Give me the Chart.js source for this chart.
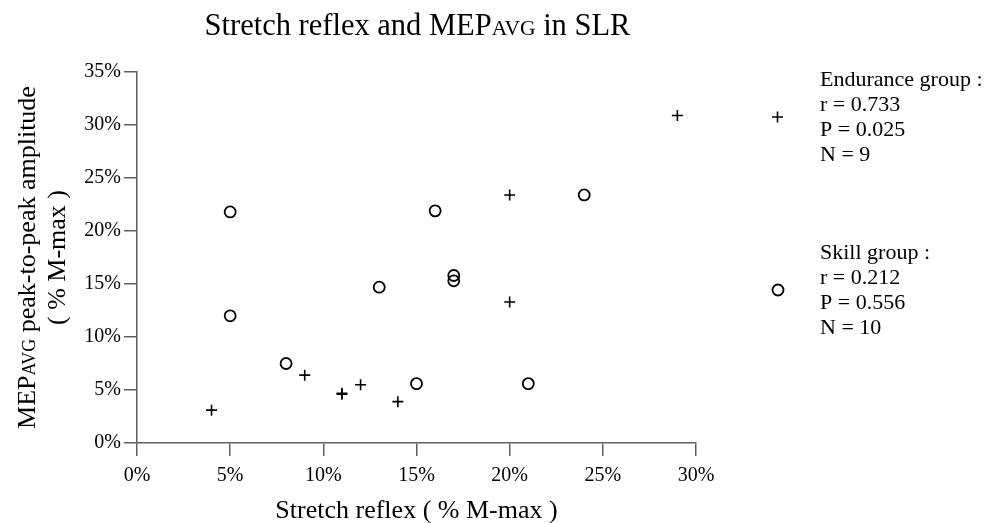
<!DOCTYPE html>
<html><head><meta charset="utf-8">
<script src="https://cdn.jsdelivr.net/npm/chart.js@4.4.1/dist/chart.umd.min.js"></script>
<style>html,body{margin:0;padding:0;background:#fff;overflow:hidden;}</style>
</head><body>
<canvas id="c" width="988" height="523" style="display:block;width:988px;height:523px"></canvas>
<script>
// ---- data (percent of M-max) ----
const enduranceX = [4, 9, 11, 11, 12, 14, 20, 20, 29];
const enduranceY = [3.1, 6.4, 4.6, 4.7, 5.5, 3.9, 23.4, 13.3, 30.9];
const skillX = [5, 5, 8, 13, 15, 16, 17, 17, 21, 24];
const skillY = [21.8, 12.0, 7.5, 14.7, 5.6, 21.9, 15.8, 15.3, 5.6, 23.4];
const xTicks = [0, 5, 10, 15, 20, 25, 30];
const yTicks = [0, 5, 10, 15, 20, 25, 30, 35];
const enduranceStats = ['Endurance group :', 'r = 0.733', 'P = 0.025', 'N = 9'];
const skillStats = ['Skill group :', 'r = 0.212', 'P = 0.556', 'N = 10'];
const titleParts = ['Stretch reflex and MEP', 'AVG', ' in SLR'];
const yTitleParts = ['MEP', 'AVG', ' peak-to-peak amplitude'];
const yTitleLine2 = '( % M-max )';
const xTitle = 'Stretch reflex ( % M-max )';

const FONT = '"Liberation Serif","Times New Roman",serif';
const AXIS = '#606060';

function pts(xs, ys) { return xs.map((x, i) => ({x: x, y: ys[i]})); }

function drawComposite(ctx, parts, big, small, cx, baseY) {
  ctx.font = big + 'px ' + FONT;
  const w0 = ctx.measureText(parts[0]).width;
  const w2 = ctx.measureText(parts[2]).width;
  ctx.font = small + 'px ' + FONT;
  const w1 = ctx.measureText(parts[1]).width;
  let x = cx - (w0 + w1 + w2) / 2;
  ctx.textAlign = 'left';
  ctx.textBaseline = 'alphabetic';
  ctx.font = big + 'px ' + FONT; ctx.fillText(parts[0], x, baseY); x += w0;
  ctx.font = small + 'px ' + FONT; ctx.fillText(parts[1], x, baseY); x += w1;
  ctx.font = big + 'px ' + FONT; ctx.fillText(parts[2], x, baseY);
}

const textPlugin = {
  id: 'texts',
  afterDraw(chart) {
    const ctx = chart.ctx;
    const a = chart.chartArea;
    const cx = (a.left + a.right) / 2;
    const cy = (a.top + a.bottom) / 2;
    ctx.save();
    ctx.fillStyle = '#000';
    // title
    drawComposite(ctx, titleParts, 30.5, 21.5, cx + 1, 35);
    // x title
    ctx.font = '26px ' + FONT;
    ctx.textAlign = 'center';
    ctx.textBaseline = 'alphabetic';
    ctx.fillText(xTitle, cx, 518);
    // y title (rotated)
    ctx.save();
    ctx.translate(35, cy);
    ctx.rotate(-Math.PI / 2);
    drawComposite(ctx, yTitleParts, 26, 18, 0, 0);
    ctx.restore();
    ctx.save();
    ctx.translate(65, cy);
    ctx.rotate(-Math.PI / 2);
    ctx.font = '26px ' + FONT;
    ctx.textAlign = 'center';
    ctx.textBaseline = 'alphabetic';
    ctx.fillText(yTitleLine2, 0, 0);
    ctx.restore();
    // legend blocks
    ctx.font = '22px ' + FONT;
    ctx.textAlign = 'left';
    ctx.textBaseline = 'middle';
    enduranceStats.forEach((t, i) => ctx.fillText(t, 820, 80 + i * 25));
    skillStats.forEach((t, i) => ctx.fillText(t, 820, 253 + i * 25));
    // legend markers
    ctx.strokeStyle = '#000';
    ctx.lineWidth = 1.6;
    ctx.beginPath();
    ctx.moveTo(777.5 - 5.5, 117); ctx.lineTo(777.5 + 5.5, 117);
    ctx.moveTo(777.5, 117 - 5.5); ctx.lineTo(777.5, 117 + 5.5);
    ctx.stroke();
    ctx.lineWidth = 1.8;
    ctx.beginPath();
    ctx.arc(778, 290, 5.5, 0, Math.PI * 2);
    ctx.stroke();
    ctx.restore();
  }
};

new Chart(document.getElementById('c'), {
  type: 'scatter',
  data: {
    datasets: [
      {label: 'Endurance group', data: pts(enduranceX, enduranceY), pointStyle: 'cross',
       pointRadius: 5.5, pointBorderWidth: 1.6, borderColor: '#000', backgroundColor: '#000'},
      {label: 'Skill group', data: pts(skillX, skillY), pointStyle: 'circle',
       pointRadius: 5.5, pointBorderWidth: 1.8, borderColor: '#000', backgroundColor: 'rgba(0,0,0,0)'}
    ]
  },
  options: {
    responsive: false,
    devicePixelRatio: 1,
    animation: false,
    events: [],
    layout: {padding: {top: 72, right: 292, left: 0, bottom: 0}},
    plugins: {legend: {display: false}, title: {display: false}, tooltip: {enabled: false}},
    scales: {
      x: {
        type: 'linear', min: 0, max: 30,
        afterBuildTicks: s => { s.ticks = xTicks.map(v => ({value: v})); },
        afterFit: s => { s.height = 80; },
        grid: {drawOnChartArea: false, drawTicks: true, tickLength: 13, color: AXIS, lineWidth: 1.5},
        border: {display: true, color: AXIS, width: 1.5},
        ticks: {color: '#000', font: {family: FONT, size: 20}, padding: 8, maxRotation: 0,
                callback: v => v + '%'}
      },
      y: {
        type: 'linear', min: 0, max: 35,
        afterBuildTicks: s => { s.ticks = yTicks.map(v => ({value: v})); },
        afterFit: s => { s.width = 137; },
        grid: {drawOnChartArea: false, drawTicks: true, tickLength: 13, color: AXIS, lineWidth: 1.5},
        border: {display: true, color: AXIS, width: 1.5},
        ticks: {color: '#000', font: {family: FONT, size: 20}, padding: 3,
                callback: v => v + '%'}
      }
    }
  },
  plugins: [textPlugin]
});
</script>
</body></html>
